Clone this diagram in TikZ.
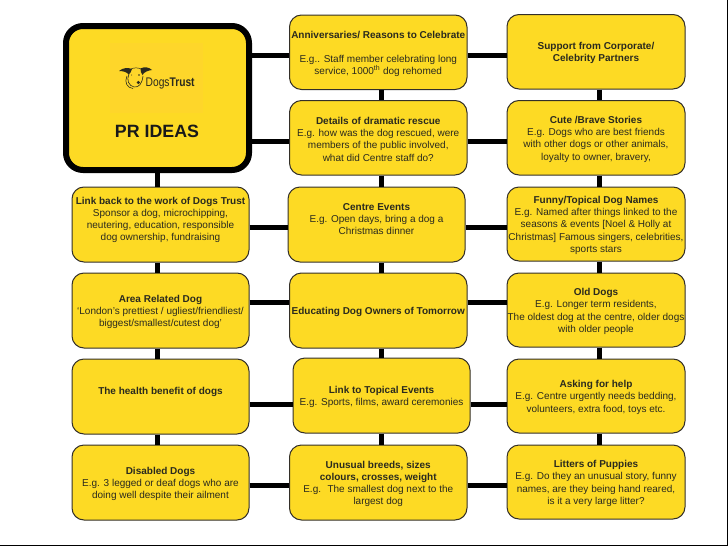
\documentclass[tikz,border=0pt]{standalone}
\usepackage{fontspec}
\setmainfont{Liberation Sans}
\usetikzlibrary{positioning,calc}
\definecolor{dtyellow}{HTML}{FDDA24}
\definecolor{logoback}{HTML}{FED62A}
\definecolor{inkdark}{HTML}{2A2A1E}
\tikzset{
  idea/.style={draw=black!85!olive, fill=dtyellow, rounded corners=12pt, line width=1pt, align=center,
    inner sep=0pt, text=inkdark, font=\fontsize{10}{12.2}\selectfont},
  prbox/.style={draw=black, fill=dtyellow, rounded corners=17pt, line width=6pt},
  link/.style={line width=5pt, draw=black},
  prlbl/.style={font=\fontsize{17.8}{20}\selectfont\bfseries, text=black!90, inner sep=0pt},
  logolbl/.style={font=\fontsize{12.5}{14}\selectfont, text=inkdark, inner sep=0pt, xscale=.82, transform shape},
}
\newcommand{\ideabox}[6]{%
  \node[idea, minimum width=#4pt-#2pt, minimum height=#5pt-#3pt] (#1) at ({(#2+#4)/2},{(#3+#5)/2}) {\rule{0pt}{10pt}#6};}
\newcommand{\hlink}[3]{\draw[link] (#1.east |- 0,#3) -- (#2.west |- 0,#3);}
\newcommand{\vlink}[3]{\draw[link] (#1.south -| #3,0) -- (#2.north -| #3,0);}
\newcommand{\hd}[1]{\textbf{#1}}
\newcommand{\gapline}{\\\rule[-2pt]{0pt}{1pt}}

\begin{document}
\begin{tikzpicture}[x=1pt,y=-1pt]
  \useasboundingbox (0,0) rectangle (728,546);
  \draw[black, line width=1pt] (727.5,0) -- (727.5,545.5) -- (0,545.5);
  % left column
  \node[prbox, minimum width=183pt, minimum height=144pt] (pr) at (157.5,98) {};
  \ideabox{linkback}{72}{187}{249}{262}{\hd{Link back to the work of Dogs Trust}\\Sponsor a dog, microchipping,\\neutering, education, responsible\\dog ownership, fundraising\gapline}
  \ideabox{area}{72}{273}{249}{348}{\hd{Area Related Dog}\\`London's prettiest / ugliest/friendliest/\\biggest/smallest/cutest dog'}
  \ideabox{health}{72}{359}{249}{434}{\hd{The health benefit of dogs}\gapline}
  \ideabox{disabled}{72}{445}{249}{520}{\hd{Disabled Dogs}\\E.g. 3 legged or deaf dogs who are\\doing well despite their ailment}
  % middle column
  \ideabox{anniv}{289.5}{15}{467}{89.5}{\hd{Anniversaries/ Reasons to Celebrate}\\[12pt]E.g.. Staff member celebrating long\\service, 1000\textsuperscript{th} dog rehomed}
  \ideabox{rescue}{289.5}{100.5}{467}{175}{\hd{Details of dramatic rescue}\\E.g. how was the dog rescued, were\\members of the public involved,\\what did Centre staff do?}
  \ideabox{events}{288}{187}{465}{262}{\hd{Centre Events}\\E.g. Open days, bring a dog a\\Christmas dinner\gapline}
  \ideabox{owners}{289.5}{273}{467}{348}{\hd{Educating Dog Owners of Tomorrow}}
  \ideabox{topical}{293}{358}{470}{433}{\hd{Link to Topical Events}\\E.g. Sports, films, award ceremonies}
  \ideabox{breeds}{289.5}{445}{467}{520}{\hd{Unusual breeds, sizes}\\\hd{colours, crosses, weight}\\E.g.~ The smallest dog next to the\\largest dog}
  % right column
  \ideabox{support}{507}{14.5}{685}{89}{\hd{Support from Corporate/}\\\hd{Celebrity Partners}}
  \ideabox{cute}{507}{100.5}{685}{175}{\hd{Cute /Brave Stories}\\E.g. Dogs who are best friends\\with other dogs or other animals,\\loyalty to owner, bravery,}
  \ideabox{funny}{507}{187}{685}{261}{\hd{Funny/Topical Dog Names}\\E.g. Named after things linked to the\\seasons \& events [Noel \& Holly at\\Christmas] Famous singers, celebrities,\\sports stars}
  \ideabox{olddogs}{507}{273}{685}{347}{\hd{Old Dogs}\\E.g. Longer term residents,\\The oldest dog at the centre, older dogs\\with older people}
  \ideabox{asking}{507}{359}{685}{433}{\hd{Asking for help}\\E.g. Centre urgently needs bedding,\\volunteers, extra food, toys etc.}
  \ideabox{litters}{507}{445}{685}{519}{\hd{Litters of Puppies}\\E.g. Do they an unusual story, funny\\names, are they being hand reared,\\is it a very large litter?}
  % vertical links
  \foreach \a/\b in {pr/linkback, linkback/area, area/health, health/disabled} {\vlink{\a}{\b}{157}}
  \foreach \a/\b in {anniv/rescue, rescue/events, events/owners, owners/topical, topical/breeds} {\vlink{\a}{\b}{381.5}}
  \foreach \a/\b in {support/cute, cute/funny, funny/olddogs, olddogs/asking, asking/litters} {\vlink{\a}{\b}{599}}
  % horizontal links
  \foreach \a/\b/\c/\y in {pr/anniv/support/55, pr/rescue/cute/141, linkback/events/funny/227, area/owners/olddogs/302, health/topical/asking/404, disabled/breeds/litters/485} {
    \hlink{\a}{\b}{\y}
    \hlink{\b}{\c}{\y}
  }
  % logo
  \fill[logoback] (110,43) rectangle (203,113);
  \fill[inkdark] (119,71) .. controls (123,67.5) and (128,67.5) .. (132,69) .. controls (131,72) and (130,74) .. (128.5,74.5) .. controls (127,72) and (123,71) .. (119,71) -- cycle;
  \fill[inkdark] (140.5,68.5) .. controls (144,66.5) and (149,67) .. (152,70) .. controls (148,70.5) and (144,72) .. (142.5,75) .. controls (141,73) and (140.5,71) .. (140.5,68.5) -- cycle;
  \draw[inkdark, line width=0.5pt] (131,69) .. controls (134,67.5) and (138,67.5) .. (141,69);
  \draw[inkdark, line width=0.6pt] (129,74) .. controls (126,80) and (129,86) .. (134,87) .. controls (139,87.5) and (142,84) .. (143,76);
  \draw[inkdark, line width=0.6pt] (127,76) .. controls (124,82) and (127,88) .. (133,88.5);
  \fill[inkdark] (138.3,82.5) circle (1.7pt);
  \fill[inkdark] (139,75) circle (0.8pt);
  \fill[inkdark] (131.5,75) circle (0.5pt);
  \node[logolbl, anchor=west] (logotext) at (145.5,83.5) {Dogs\textbf{Trust}};
  \node[prlbl] (prtitle) at (157,131) {PR IDEAS};
\end{tikzpicture}
\end{document}
